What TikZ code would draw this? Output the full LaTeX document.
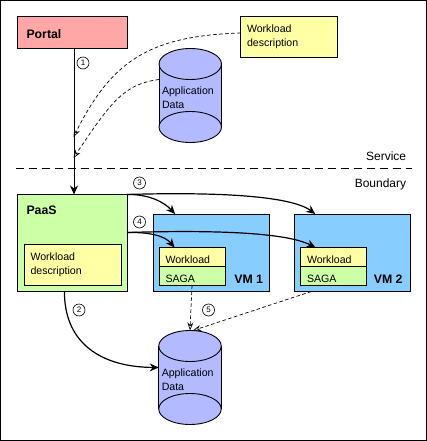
\documentclass[tikz,border=0pt]{standalone}
\usepackage{fontspec}
\setmainfont{Liberation Sans}
\usetikzlibrary{arrows.meta,positioning}
\definecolor{portalred}{HTML}{FFA6A6}
\definecolor{noteyellow}{HTML}{FFFFA6}
\definecolor{paasgreen}{HTML}{CCFFA6}
\definecolor{vmblue}{HTML}{87CEFF}
\definecolor{datablue}{HTML}{B3BAFF}
\newcommand{\drawdata}[1]{
  \fill[datablue] ([yshift=-15.5pt]#1.north west) rectangle ([yshift=15.5pt]#1.south east);
  \draw ([yshift=-15.5pt]#1.north west) -- ([yshift=15.5pt]#1.south west);
  \draw ([yshift=-15.5pt]#1.north east) -- ([yshift=15.5pt]#1.south east);
  \draw[fill=datablue] ([yshift=15.5pt]#1.south) ellipse (31.25pt and 15.5pt);
  \draw[fill=datablue] ([yshift=-15.5pt]#1.north) ellipse (31.25pt and 15.5pt);
}

\begin{document}
\begin{tikzpicture}[
  x=1pt,y=-1pt,
  line width=0.9pt,
  every node/.style={outer sep=0pt,font=\fontsize{10.6}{14}\selectfont},
  box/.style={rectangle,draw=black},
  note/.style={box,fill=noteyellow,align=left,inner xsep=6.5pt,text width=#1},
  descnote/.style={note=84pt,minimum height=41pt,text depth=16pt},
  loadnote/.style={note=53pt,minimum height=19pt,inner ysep=2pt,text height=13pt,text depth=0pt},
  data/.style={rectangle,minimum width=62.5pt,minimum height=94pt,inner sep=0pt},
  datatext/.style={inner sep=0pt,align=left},
  heading/.style={inner sep=0pt,font=\fontsize{12.3}{14}\bfseries\selectfont},
  side/.style={font=\fontsize{12}{14}\selectfont},
  stepmark/.style={circle,draw=black,line width=0.6pt,inner sep=0pt,minimum size=12pt,
               font=\fontsize{8}{8}\selectfont},
  arrow/.style={-{Stealth[length=9pt,width=8pt]},line width=1.2pt},
  feed/.style={-{Stealth[open,length=8pt,width=6pt]},dashed,dash pattern=on 3.5pt off 2.5pt,line width=0.7pt}
]
  \useasboundingbox (0,0) rectangle (427,441);
  \node[box,minimum width=426pt,minimum height=440pt] (frame) at (213.5,220.5) {};

  \node[box,fill=portalred,minimum width=110pt,minimum height=32pt,
        below right=16pt and 16.5pt of frame.north west] (portal) {};
  \node[heading,right=9.5pt of portal.west,yshift=-2pt] (portallabel) {Portal};
  \node[descnote,below right=16pt and 240pt of frame.north west] (desc) {Workload\\description};
  \node[data,below right=48pt and 158.5pt of frame.north west] (dataA) {};
  \drawdata{dataA}
  \node[datatext,right=3pt of dataA.west,yshift=-2.5pt] (dataAtext) {Application\\Data};

  \coordinate[below left=168pt and 15pt of frame.north east] (lineright);
  \coordinate[below right=168pt and 15pt of frame.north west] (lineleft);
  \draw[dashed,dash pattern=on 8pt off 5pt] (lineleft) -- (lineright);
  \node[side,below left=148pt and 17pt of frame.north east] (service) {Service};
  \node[side,below left=175pt and 17pt of frame.north east] (boundary) {Boundary};

  \node[box,fill=paasgreen,minimum width=110pt,minimum height=97pt,
        below=146pt of portal] (paas) {};
  \node[heading,below right=11.5pt and 9.5pt of paas.north west] (paaslabel) {PaaS};
  \node[descnote,above left=6pt and 6pt of paas.south east] (paasdesc) {Workload\\description};

  \node[box,fill=vmblue,minimum width=116pt,minimum height=77.5pt,
        above right=0pt and 26pt of paas.south east] (vmA) {};
  \node[box,fill=vmblue,minimum width=116.5pt,minimum height=77.5pt,
        right=25pt of vmA] (vmB) {};
  \node[heading,above left=8pt and 6pt of vmA.south east] (vmAlabel) {VM 1};
  \node[heading,above left=8pt and 8pt of vmB.south east] (vmBlabel) {VM 2};

  \node[loadnote,above right=25pt and 6pt of vmA.south west] (loadA) {Workload};
  \node[loadnote,fill=paasgreen,below=0pt of loadA] (sagaA) {SAGA};
  \node[loadnote,above right=25pt and 6.5pt of vmB.south west] (loadB) {Workload};
  \node[loadnote,fill=paasgreen,below=0pt of loadB] (sagaB) {SAGA};

  \node[data,below=39pt of vmA.south west,xshift=37pt] (dataB) {};
  \drawdata{dataB}
  \node[datatext,right=3pt of dataB.west,yshift=-2.5pt] (dataBtext) {Application\\Data};

  \node[stepmark] (stepone) at (83,63) {1};
  \node[stepmark] (stepthree) at (139.5,183) {3};
  \node[stepmark] (stepfour) at (139.5,222) {4};
  \node[stepmark] (steptwo) at (79,310) {2};
  \node[stepmark] (stepfive) at (208.5,310) {5};

  \coordinate (joinA) at (73.5,137);
  \coordinate (joinB) at (73.5,158);

  \draw[-{Stealth[length=9pt,width=8pt]}] ([xshift=2pt]portal.south) -- ([xshift=2pt]paas.north);
  \draw[feed] ([yshift=4pt]desc.west) .. controls (150,36) and (112,60) .. (joinA);
  \draw[feed] ([yshift=16pt]dataA.west) .. controls (125,84) and (112,100) .. (joinB);

  \draw[arrow] (paas.north east) .. controls (150,194) and (165,203) .. ([xshift=-36pt]vmA.north);
  \draw[arrow] (paas.north east) .. controls (210,192) and (290,195) .. ([xshift=-37pt]vmB.north);
  \draw[arrow] ([yshift=-38pt]paas.north east) .. controls (150,232) and (165,236) .. ([xshift=-17.5pt]loadA.north);
  \draw[arrow] ([yshift=-38pt]paas.north east) .. controls (210,230) and (285,232) .. ([xshift=-18pt]loadB.north);
  \draw[arrow] ([xshift=-7.5pt]paas.south) .. controls (64,338) and (95,367) .. ([yshift=10pt]dataB.west);

  \draw[feed] (sagaA.south) -- (dataB.north);
  \draw[feed] ([xshift=-41pt]vmB.south) -- ([xshift=3pt]dataB.north);
\end{tikzpicture}
\end{document}
